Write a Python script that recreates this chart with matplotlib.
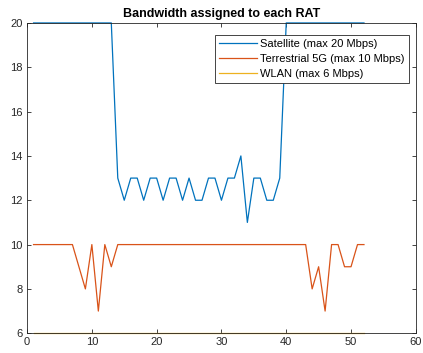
import matplotlib
matplotlib.use('Agg')
import numpy as np
import matplotlib.pyplot as plt

plt.rcParams['font.family'] = ['Liberation Sans', 'DejaVu Sans']

# time slots
slots = list(range(1, 53))

# bandwidth per RAT (Mbps)
satellite = [20] * 13 + [13, 12, 13, 13, 12, 13, 13, 12, 13, 13, 12, 13, 12, 12, 13, 13,
                         12, 13, 13, 14, 11, 13, 13, 12, 12, 13] + [20] * 13
terrestrial = [10] * 7 + [9, 8, 10, 7, 10, 9] + [10] * 30 + [8, 9, 7, 10, 10, 9, 9, 10, 10]
wlan = [6] * 52

labels = ['Satellite (max 20 Mbps)', 'Terrestrial 5G (max 10 Mbps)', 'WLAN (max 6 Mbps)']
colors = ['#0072BD', '#D95319', '#EDB120']

fig = plt.figure(figsize=(4.23, 3.53), dpi=100)
ax = fig.add_axes([0.064, 0.056, 0.919, 0.879])

for vals, lab, c in zip([satellite, terrestrial, wlan], labels, colors):
    ax.plot(slots, vals, color=c, linewidth=0.9, label=lab, clip_on=False)

ax.set_xlim(0, 60)
ax.set_ylim(6, 20)
ax.set_xticks(np.arange(0, 61, 10))
ax.set_yticks(np.arange(6, 21, 2))
ax.tick_params(direction='in', length=3, width=0.6, labelsize=8, colors='#262626',
               top=True, right=True, pad=3)
for s in ax.spines.values():
    s.set_linewidth(0.6)
    s.set_color('#262626')

ax.set_title('Bandwidth assigned to each RAT', fontsize=9, fontweight='bold', pad=4)
leg = ax.legend(loc='upper right', bbox_to_anchor=(0.982, 0.962), fontsize=8, frameon=True,
                fancybox=False, edgecolor='#262626', framealpha=1, handlelength=3.4,
                borderpad=0.35, labelspacing=0.45, handletextpad=0.3, borderaxespad=0)
leg.get_frame().set_linewidth(0.6)

plt.savefig('out.png', dpi=100)
